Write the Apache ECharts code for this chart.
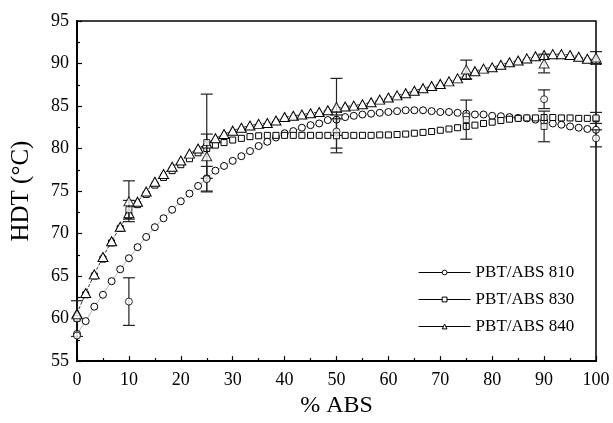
<!DOCTYPE html>
<html>
<head>
<meta charset="utf-8">
<script src="https://cdn.jsdelivr.net/npm/echarts@6/dist/echarts.min.js"></script>
<style>
html,body{margin:0;padding:0;background:#fff;}
#chart{width:613px;height:423px;}
</style>
</head>
<body>
<div id="chart"></div>
<script>
// fitted-curve sample positions (% ABS)
var fitX = [0,1.67,3.33,5,6.67,8.33,10,11.67,13.33,15,16.67,18.33,20,21.67,23.33,25,26.67,28.33,30,31.67,33.33,35,36.67,38.33,40,41.67,43.33,45,46.67,48.33,50,51.67,53.33,55,56.67,58.33,60,61.67,63.33,65,66.67,68.33,70,71.67,73.33,75,76.67,78.33,80,81.67,83.33,85,86.67,88.33,90,91.67,93.33,95,96.67,98.33,100];
// fitted HDT curves
var fit810 = [58.2,59.7,61.4,62.8,64.4,65.8,67.1,68.4,69.6,70.75,71.8,72.8,73.8,74.7,75.6,76.5,77.4,77.95,78.55,79.1,79.7,80.3,80.8,81.3,81.8,82.05,82.45,82.75,82.95,83.35,83.4,83.7,83.85,84.0,84.1,84.2,84.3,84.4,84.5,84.5,84.5,84.4,84.3,84.3,84.2,84.1,84.0,84.0,83.85,83.8,83.7,83.6,83.55,83.4,83.2,82.95,82.8,82.6,82.45,82.3,82.2];
var fit830 = [60.1,62.8,65.0,67.0,68.9,70.6,72.1,73.4,74.6,75.7,76.6,77.4,78.1,78.8,79.5,80.0,80.4,80.7,81.0,81.2,81.4,81.5,81.55,81.55,81.55,81.55,81.55,81.55,81.55,81.55,81.55,81.55,81.55,81.55,81.55,81.6,81.6,81.65,81.7,81.8,81.9,82.0,82.15,82.3,82.45,82.6,82.75,82.95,83.1,83.3,83.45,83.55,83.6,83.6,83.65,83.65,83.6,83.6,83.55,83.55,83.5];
var fit840 = [60.6,63.0,65.2,67.25,69.1,70.8,72.4,73.75,74.95,76.1,77.0,77.85,78.6,79.4,80.0,80.6,81.2,81.7,82.1,82.45,82.7,82.9,83.0,83.3,83.7,83.85,84.0,84.15,84.3,84.5,84.75,84.95,85.05,85.2,85.45,85.75,86.0,86.25,86.5,86.8,87.1,87.35,87.6,87.9,88.25,88.65,89.1,89.4,89.55,89.85,90.15,90.35,90.6,90.85,91.0,91.1,91.1,91.0,90.8,90.55,90.4];
// measured points and error half-widths
var measX = [0,10,25,50,75,90,100];
var meas810 = [58.0,62.0,76.4,82.0,83.8,85.8,81.2];
var err810  = [0,2.8,1.5,1.95,0,1.1,1.0];
var meas830 = [60.0,72.8,80.7,81.5,83.4,82.6,83.6];
var err830  = [2.1,1.1,5.7,2.0,2.3,1.8,0.65];
var meas840 = [60.5,73.8,79.1,84.9,89.3,90.0,90.7];
var err840  = [0,2.4,2.6,3.35,1.1,1.1,0.7];
var names = ['PBT/ABS 810','PBT/ABS 830','PBT/ABS 840'];
var xTicks = [0,10,20,30,40,50,60,70,80,90,100];
var yTicks = [55,60,65,70,75,80,85,90,95];

var FONT = 'Liberation Serif';
function pairs(xs, ys){ return xs.map(function(x,i){ return [x, ys[i]]; }); }
function errData(ys, es){
  var out = [];
  measX.forEach(function(x,i){ if (es[i] > 0) out.push([x, ys[i]-es[i], ys[i]+es[i]]); });
  return out;
}
var markerStyle = {color:'#fff', borderColor:'#000', borderWidth:1};
var symbols = ['circle','rect','triangle'];
var sizes = [[7,7],[6,6],[10,9]];
var fits = [fit810, fit830, fit840];
var meas = [meas810, meas830, meas840];
var errs = [err810, err830, err840];
var lineW = [0.6, 0, 0.8];
var lineT = ['dotted','solid','dashed'];

var series = [];
for (var k=0;k<3;k++){
  series.push({
    name: names[k], type:'line', data: pairs(fitX, fits[k]),
    symbol: symbols[k], symbolSize: sizes[k], showAllSymbol:true,
    itemStyle: markerStyle, lineStyle:{width:lineW[k], color:'#000', type:lineT[k]},
    emphasis:{disabled:true}, animation:false, z:2
  });
}
for (var k=0;k<3;k++){
  series.push({
    type:'custom', data: errData(meas[k], errs[k]), animation:false, z:3,
    renderItem: function(params, api){
      var x = api.value(0);
      var lo = api.coord([x, api.value(1)]);
      var hi = api.coord([x, api.value(2)]);
      var c = 6;
      var st = {stroke:'#222', lineWidth:1.2};
      return {type:'group', children:[
        {type:'line', shape:{x1:lo[0],y1:lo[1],x2:hi[0],y2:hi[1]}, style:st},
        {type:'line', shape:{x1:lo[0]-c,y1:lo[1],x2:lo[0]+c,y2:lo[1]}, style:st},
        {type:'line', shape:{x1:hi[0]-c,y1:hi[1],x2:hi[0]+c,y2:hi[1]}, style:st}
      ]};
    }
  });
}
for (var k=0;k<3;k++){
  series.push({
    type:'scatter', data: pairs(measX, meas[k]),
    symbol: symbols[k], symbolSize: sizes[k],
    itemStyle: markerStyle, emphasis:{disabled:true}, animation:false, z:4
  });
}

var chart = echarts.init(document.getElementById('chart'), null, {renderer:'canvas'});
chart.setOption({
  backgroundColor:'#fff',
  animation:false,
  grid:{left:77, right:17, top:21, bottom:60, show:true, borderColor:'#000', borderWidth:1.5, backgroundColor:'transparent'},
  legend:{
    data: names, orient:'vertical', left:413, top:259,
    itemWidth:52, itemHeight:6, itemGap:10,
    lineStyle:{color:'#000', width:1.2, opacity:1, type:'solid'},
    itemStyle:{color:'#fff', borderColor:'#000', borderWidth:1},
    textStyle:{fontFamily:FONT, fontSize:17, color:'#000'},
    selectedMode:false
  },
  xAxis:{
    type:'value', min:0, max:100, interval:10,
    name:'% ABS', nameLocation:'middle', nameGap:30,
    nameTextStyle:{fontFamily:FONT, fontSize:24, color:'#000'},
    axisLine:{show:true, onZero:false, lineStyle:{color:'#000', width:2}},
    axisTick:{show:true, inside:true, length:5, lineStyle:{color:'#000', width:1.2}},
    minorTick:{show:true, splitNumber:2, length:3, lineStyle:{color:'#000', width:1.2}},
    axisLabel:{fontFamily:FONT, fontSize:18, color:'#000', margin:10,
      formatter:function(v){ return xTicks.indexOf(v)>=0 ? String(v) : ''; }},
    splitLine:{show:false}
  },
  yAxis:{
    type:'value', min:55, max:95, interval:5,
    name:'HDT (°C)', nameLocation:'middle', nameGap:43,
    nameTextStyle:{fontFamily:FONT, fontSize:25, color:'#000'},
    axisLine:{show:true, onZero:false, lineStyle:{color:'#000', width:2}},
    axisTick:{show:true, inside:true, length:5, lineStyle:{color:'#000', width:1.2}},
    minorTick:{show:true, splitNumber:2, length:3, lineStyle:{color:'#000', width:1.2}},
    axisLabel:{fontFamily:FONT, fontSize:18, color:'#000', margin:8,
      formatter:function(v){ return yTicks.indexOf(v)>=0 ? String(v) : ''; }},
    splitLine:{show:false}
  },
  series: series
});
</script>
</body>
</html>
